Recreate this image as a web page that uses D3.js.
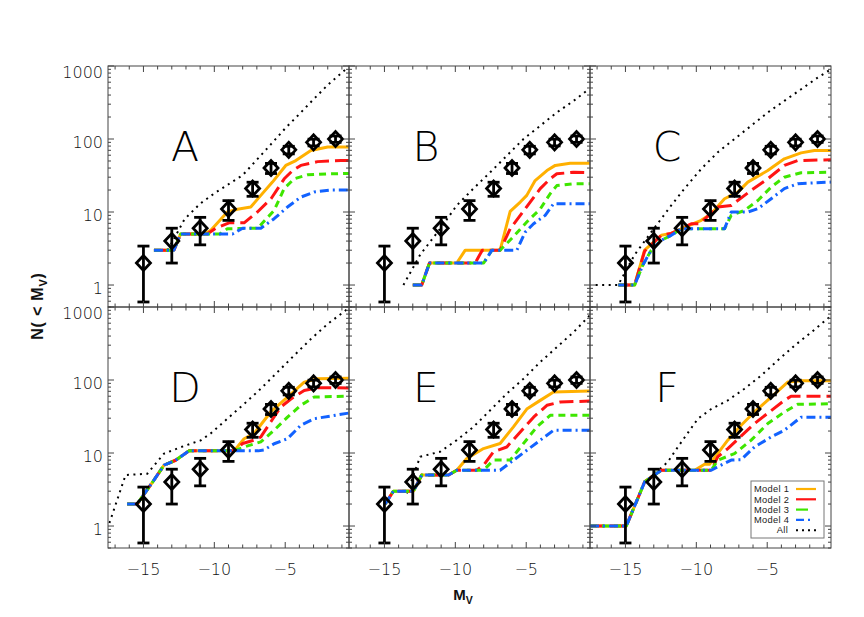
<!DOCTYPE html>
<html><head><meta charset="utf-8">
<script src="https://cdn.jsdelivr.net/npm/d3@7"></script>
<style>body{margin:0;background:#fff;} svg{display:block}</style>
</head><body><svg id="c" width="864" height="617"></svg>
<script>
// ---------- data ----------
const obsMag = [-15, -13, -11, -9, -7.3, -6, -4.75, -3, -1.45];
const obsN   = [2, 4, 6, 11, 21, 40, 71, 90, 100];
const panelLabels = ["A", "B", "C", "D", "E", "F"];
const xTickValues = [-15, -10, -5];
const xTickLabels = ["\u221215", "\u221210", "\u22125"];
const yTickValues = [1, 10, 100, 1000];
const yTickLabels = ["1", "10", "100", "1000"];
const seriesNames = ["Model 1", "Model 2", "Model 3", "Model 4", "All"];

// Panel A  ([M_V, N(<M_V)] pairs)
const A_m1 = [[-14.26,3],[-12.85,3],[-12.38,5],[-10.7,5],[-10.26,5.6],[-9.08,10],[-8.37,10.9],[-7.43,11.7],[-6.72,16.9],[-5.9,25.7],[-4.96,43.4],[-4.25,50.6],[-3.19,69.6],[-2.0,77.5],[-0.5,77.5]];
const A_m2 = [[-14.26,3],[-12.85,3],[-12.38,5],[-10.5,5],[-9.9,6],[-8.96,7.1],[-7.9,7.1],[-6.96,10],[-6.0,15.2],[-5.07,28.5],[-4.48,37],[-3.9,43.5],[-2.72,49],[-1.07,50.7],[-0.5,50.7]];
const A_m3 = [[-14.26,3],[-12.85,3],[-12.38,5],[-9.6,5],[-9.08,5.9],[-6.95,6],[-5.78,10.5],[-5.07,21],[-4.37,28.5],[-3.43,32.3],[-2.0,33.3],[-0.5,33.8]];
const A_m4 = [[-14.26,3],[-12.85,3],[-12.38,5],[-8.72,5],[-8.0,6],[-6.72,6],[-5.78,8.1],[-4.84,11.7],[-3.9,16],[-2.95,18.8],[-1.78,20],[-0.5,20]];
const A_all = [[-13.3,3],[-12.9,4.1],[-12.1,8],[-11,13],[-10,18],[-9,24],[-8,32],[-7,52],[-6,85],[-5,140],[-4,220],[-3,350],[-2,550],[-0.6,950]];

// Panel B
const B_m1 = [[-13.0,1],[-12.37,1],[-11.82,2],[-9.9,2],[-9.3,3],[-6.84,3],[-6.13,10.2],[-5.42,13.7],[-4.96,16.9],[-4.37,27],[-3.54,37],[-2.95,43.5],[-1.9,46.7],[-0.5,46.7]];
const B_m2 = [[-13.0,1],[-12.37,1],[-11.82,2],[-8.6,2],[-8.1,3],[-6.84,3],[-6.13,5.9],[-5.42,9],[-4.72,13.7],[-4.01,20.9],[-3.31,28.5],[-2.84,33.4],[-1.66,35],[-0.5,34.5]];
const B_m3 = [[-13.0,1],[-12.37,1],[-11.82,2],[-8.0,2],[-7.42,3],[-6.84,3],[-5.9,4.6],[-4.96,7.3],[-4.01,11],[-3.31,17.8],[-2.84,23],[-1.66,24.4],[-0.5,24.4]];
const B_m4 = [[-13.0,1],[-12.37,1],[-11.82,2],[-8.0,2],[-7.42,3],[-5.66,3],[-5.07,5.3],[-4.48,6.9],[-3.66,9],[-3.07,13],[-0.5,13]];
const B_all = [[-13.66,1],[-12.48,2.6],[-11.07,5.9],[-9.9,12.3],[-8.72,21],[-7.54,35],[-6.37,59],[-5.19,100],[-4.01,152],[-2.84,231],[-1.66,333],[-0.6,480]];

// Panel C
const C_m1 = [[-15.5,1],[-14.35,1],[-13.65,3],[-12.47,4.8],[-11.77,5.1],[-11.06,5.9],[-9.65,7.7],[-8.95,9.5],[-8.01,15.2],[-7.07,18.7],[-6.37,25.7],[-4.96,37],[-3.79,53.5],[-2.61,64.6],[-1.67,69.6],[-0.5,69.6]];
const C_m2 = [[-15.5,1],[-14.35,1],[-13.65,2.9],[-12.47,4.8],[-11.77,5.1],[-11.06,5.9],[-10.36,6.9],[-9.77,6.9],[-8.48,11.7],[-7.54,12.3],[-6.13,19.8],[-4.96,28.5],[-3.79,43.5],[-2.85,50.7],[-0.5,52]];
const C_m3 = [[-15.5,1],[-14.35,1],[-13.76,1.9],[-13.18,3],[-12.47,4.1],[-11.77,4.8],[-11.06,5.9],[-8.01,5.9],[-7.54,9],[-6.6,10.5],[-5.66,14.4],[-4.72,22],[-3.79,30],[-2.61,34.5],[-0.5,35]];
const C_m4 = [[-15.5,1],[-14.35,1],[-13.76,1.9],[-13.18,3],[-12.47,4.1],[-11.77,4.8],[-11.06,5.9],[-8.01,5.9],[-7.54,10],[-6.37,10],[-5.66,11.1],[-4.72,15.2],[-3.79,20.9],[-2.85,24.4],[-0.5,25.7]];
const C_all = [[-17.1,1],[-15.52,1],[-14.35,2.6],[-13.18,5.3],[-11.77,12.3],[-10.83,21],[-9.65,39],[-8.48,66],[-7.31,100],[-6.13,152],[-4.96,231],[-3.79,333],[-2.61,480],[-1.44,693],[-0.55,890]];

// Panel D
const D_m1 = [[-16.15,2],[-15.44,2],[-14.26,4.25],[-13.55,6.8],[-12.73,7.96],[-11.79,10.7],[-8.61,10.7],[-7.9,15.7],[-7.2,18.5],[-6.02,36.5],[-4.84,58.5],[-3.66,93.6],[-2.72,104],[-0.5,106]];
const D_m2 = [[-16.15,2],[-15.44,2],[-14.26,4.25],[-13.55,6.8],[-12.73,7.96],[-11.79,10.7],[-8.61,10.7],[-8.0,13.5],[-7.2,15],[-6.72,16.6],[-6.0,27],[-5.31,42.7],[-4.6,55],[-3.66,72],[-2.72,78.4],[-0.5,78]];
const D_m3 = [[-16.15,2],[-15.44,2],[-14.26,4.25],[-13.55,6.8],[-12.73,7.96],[-11.79,10.7],[-8.61,10.7],[-7.9,12.1],[-6.72,14.2],[-5.78,20.5],[-4.84,31],[-3.9,45],[-2.95,58.5],[-0.5,60]];
const D_m4 = [[-16.15,2],[-15.44,2],[-14.26,4.25],[-13.55,6.8],[-12.73,7.96],[-11.79,10.7],[-6.9,10.7],[-6.5,11],[-5.78,13.4],[-4.84,15.7],[-3.9,24],[-2.95,29.5],[-0.5,35.3]];
const D_all = [[-17.4,1.1],[-16.26,5],[-14.73,5.2],[-13.55,9.8],[-12.38,12],[-10.96,14.9],[-10.26,18.5],[-9.08,29.5],[-7.9,47],[-6.72,76],[-5.55,128],[-4.37,217],[-3.19,364],[-2.0,587],[-0.6,940]];

// Panel E
const E_m1 = [[-14.95,2],[-14.37,3],[-12.95,3],[-12.37,5],[-10.48,5],[-9.9,5.8],[-9.19,8.4],[-8.01,11.5],[-6.84,13.5],[-5.9,22.8],[-4.96,40],[-4.01,52.6],[-3.07,68.4],[-0.5,70.7]];
const E_m2 = [[-14.95,2],[-14.37,3],[-12.95,3],[-12.37,5],[-10.48,5],[-9.9,5.8],[-8.5,5.8],[-8.01,6.8],[-7.31,10.4],[-6.37,12.1],[-4.48,31],[-3.54,45],[-2.6,50],[-0.5,51.5]];
const E_m3 = [[-14.95,2],[-14.37,3],[-12.95,3],[-12.37,5],[-10.48,5],[-9.9,5.8],[-8.01,5.8],[-7.31,8],[-6.13,8],[-4.25,22.8],[-3.31,32.8],[-0.5,32.8]];
const E_m4 = [[-14.95,2],[-14.37,3],[-12.95,3],[-12.37,5],[-10.48,5],[-9.9,5.8],[-6.84,5.8],[-4.96,10.9],[-4.01,15],[-3.07,20.5],[-0.5,20.5]];
const E_all = [[-13.42,2.8],[-12.48,8.9],[-11.07,10.4],[-9.9,15],[-8.72,22.8],[-7.54,38.5],[-6.37,65],[-5.19,104],[-4.01,176],[-2.84,282],[-1.66,452],[-0.53,763]];

// Panel F
const F_m1 = [[-17.5,1],[-14.94,1],[-13.64,4.04],[-12.47,5.8],[-10.12,5.8],[-9.42,7],[-9.07,7],[-7.78,15],[-6.84,24],[-5.9,36.5],[-4.72,58.5],[-3.55,93.6],[-2.61,98],[-0.5,98]];
const F_m2 = [[-17.5,1],[-14.94,1],[-13.64,4.04],[-12.47,5.8],[-10.12,5.8],[-8.95,5.8],[-8.48,8.9],[-7.78,11.5],[-5.9,25.3],[-3.79,52.6],[-3.32,60],[-0.5,60]];
const F_m3 = [[-17.5,1],[-14.94,1],[-13.64,4.04],[-12.47,5.8],[-10.12,5.8],[-8.95,5.8],[-8.48,8],[-7.31,9.8],[-6.13,15],[-4.96,25.3],[-3.79,36.5],[-2.85,46.4],[-0.5,47.4]];
const F_m4 = [[-17.5,1],[-14.94,1],[-13.64,4.04],[-12.47,5.8],[-10.12,5.8],[-8.95,5.8],[-8.48,6.5],[-7.54,8],[-6.84,8.1],[-5.9,12.1],[-4.72,16.6],[-3.79,20.5],[-2.61,31],[-0.5,31]];
const F_all = [[-17.5,1],[-14.94,1],[-13.64,4],[-12.94,5.2],[-12.0,7.6],[-11.3,12.1],[-9.89,29.5],[-8.95,40],[-7.78,52.6],[-6.6,76],[-5.43,115],[-4.25,186],[-3.08,295],[-1.91,447],[-0.62,724]];

const panelSeries = [
  [A_m1, A_m2, A_m3, A_m4, A_all],
  [B_m1, B_m2, B_m3, B_m4, B_all],
  [C_m1, C_m2, C_m3, C_m4, C_all],
  [D_m1, D_m2, D_m3, D_m4, D_all],
  [E_m1, E_m2, E_m3, E_m4, E_all],
  [F_m1, F_m2, F_m3, F_m4, F_all]
];

// ---------- styles ----------
const styles = [
  {color: "#ffb000", width: 3, dash: null},
  {color: "#ff1414", width: 3, dash: "14,6"},
  {color: "#3ee600", width: 3, dash: "7,5"},
  {color: "#1262ff", width: 3, dash: "9,4,2,4"},
  {color: "#000000", width: 2, dash: "2,4.5"}
];

// ---------- layout ----------
const svg = d3.select("#c");
const plotLeft = 108, plotTop = 66, pw = 241, ph = 241;
const x = d3.scaleLinear().domain([-17.5, -0.5]).range([0, pw]);
const y = d3.scaleLog().domain([0.5, 1000]).range([ph, 0]);
const line = d3.line().x(d => x(d[0])).y(d => y(d[1]));

const defs = svg.append("defs");
defs.append("clipPath").attr("id", "clip").append("rect").attr("width", pw).attr("height", ph);

const axisColor = "#444";
const tickFont = "'DejaVu Sans', sans-serif";

panelSeries.forEach((series, i) => {
  const col = i % 3, row = Math.floor(i / 3);
  const g = svg.append("g").attr("transform", `translate(${plotLeft + col * pw},${plotTop + row * ph})`);
  const plot = g.append("g").attr("clip-path", "url(#clip)");

  const order = [4, 0, 1, 2, 3];
  order.forEach(k => {
    const st = styles[k];
    plot.append("path").datum(series[k])
      .attr("d", line)
      .attr("fill", "none")
      .attr("stroke", st.color)
      .attr("stroke-width", st.width)
      .attr("stroke-dasharray", st.dash)
      .attr("stroke-linejoin", "round");
  });

  const obs = obsMag.map((m, j) => ({m, n: obsN[j], e: Math.sqrt(obsN[j])}));
  const og = g.append("g").attr("clip-path", "url(#clip)");
  obs.forEach(o => {
    const cx = x(o.m), lo = Math.max(o.n - o.e, 0.51), hi = o.n + o.e;
    og.append("line").attr("x1", cx).attr("x2", cx).attr("y1", y(lo)).attr("y2", y(hi))
      .attr("stroke", "#000").attr("stroke-width", 2.8);
    [lo, hi].forEach(v => {
      og.append("line").attr("x1", cx - 6).attr("x2", cx + 6).attr("y1", y(v)).attr("y2", y(v))
        .attr("stroke", "#000").attr("stroke-width", 2.8);
    });
    const cy = y(o.n);
    og.append("path").attr("d", `M${cx - 7},${cy}L${cx},${cy - 7.5}L${cx + 7},${cy}L${cx},${cy + 7.5}Z`)
      .attr("fill", "none").attr("stroke", "#000").attr("stroke-width", 2.8);
  });

  g.append("rect").attr("width", pw).attr("height", ph).attr("fill", "none")
    .attr("stroke", axisColor).attr("stroke-width", 1);

  const xMinor = d3.range(-17, 0, 1);
  xMinor.forEach(v => {
    const major = v % 5 === 0;
    const L = major ? 6 : 3.5;
    g.append("line").attr("x1", x(v)).attr("x2", x(v)).attr("y1", ph).attr("y2", ph - L).attr("stroke", axisColor);
    g.append("line").attr("x1", x(v)).attr("x2", x(v)).attr("y1", 0).attr("y2", L).attr("stroke", axisColor);
  });
  const yT = [];
  [0.1, 1, 10, 100].forEach(d => { for (let k = 1; k <= 9; k++) { const v = d * k; if (v >= 0.5 && v <= 1000) yT.push(v); } });
  yT.push(1000);
  yT.forEach(v => {
    const major = Math.abs(Math.log10(v) - Math.round(Math.log10(v))) < 1e-9;
    const L = major ? 6 : 3;
    g.append("line").attr("x1", 0).attr("x2", L).attr("y1", y(v)).attr("y2", y(v)).attr("stroke", axisColor);
    g.append("line").attr("x1", pw).attr("x2", pw - L).attr("y1", y(v)).attr("y2", y(v)).attr("stroke", axisColor);
  });

  g.append("text").attr("x", 77).attr("y", 95).attr("text-anchor", "middle")
    .attr("font-family", tickFont).attr("font-weight", 200).attr("font-size", 41)
    .attr("fill", "#000").text(panelLabels[i]);

  if (col === 0) {
    yTickValues.forEach((v, j) => {
      const yy = Math.max(y(v) + 3, 6);
      g.append("text").attr("x", -5).attr("y", yy).attr("dy", "0.35em").attr("text-anchor", "end")
        .attr("font-family", tickFont).attr("font-weight", 200).attr("font-size", 16)
        .attr("fill", "#111").text(yTickLabels[j]);
    });
  }
  if (row === 1) {
    xTickValues.forEach((v, j) => {
      g.append("text").attr("x", x(v)).attr("y", ph + 21).attr("dy", "0.35em").attr("text-anchor", "middle")
        .attr("font-family", tickFont).attr("font-weight", 200).attr("font-size", 16)
        .attr("fill", "#111").text(xTickLabels[j]);
    });
  }

  if (i === 5) {
    const lg = g.append("g").attr("transform", `translate(${pw - 80},${ph - 67})`);
    lg.append("rect").attr("width", 73).attr("height", 57).attr("fill", "#fff")
      .attr("stroke", "#777").attr("stroke-width", 1);
    seriesNames.forEach((name, k) => {
      const ly = 8 + k * 10.3;
      lg.append("text").attr("x", k === 4 ? 37 : 3).attr("y", ly).attr("dy", "0.35em")
        .attr("text-anchor", k === 4 ? "end" : "start")
        .attr("font-family", "'Liberation Sans', Arial, sans-serif").attr("font-size", 9.3)
        .attr("letter-spacing", 0.3)
        .attr("fill", "#222").text(name);
      const st = styles[k];
      lg.append("line").attr("x1", 45).attr("x2", k === 3 ? 62 : 65).attr("y1", ly).attr("y2", ly)
        .attr("stroke", st.color).attr("stroke-width", k === 4 ? 2 : 2.2)
        .attr("stroke-dasharray", k === 4 ? "2,4" : (k === 3 ? "8,4,2,4" : (k === 2 ? "12,20" : null)));
    });
  }
});

const yt = svg.append("text").attr("transform", "translate(43,306) rotate(-90)")
  .attr("text-anchor", "middle").attr("font-family", "'Liberation Sans', Arial, sans-serif")
  .attr("font-weight", "bold").attr("font-size", 16).attr("letter-spacing", 0.8).attr("fill", "#111");
yt.append("tspan").text("N( < M");
yt.append("tspan").attr("font-size", 11).attr("dy", 4).text("V");
yt.append("tspan").attr("dy", -4).text(")");

const xt = svg.append("text").attr("x", 463).attr("y", 600)
  .attr("text-anchor", "middle").attr("font-family", "'Liberation Sans', Arial, sans-serif")
  .attr("font-weight", "bold").attr("font-size", 15).attr("fill", "#111");
xt.append("tspan").text("M");
xt.append("tspan").attr("font-size", 10.5).attr("dy", 4).text("V");
</script>
</body></html>
